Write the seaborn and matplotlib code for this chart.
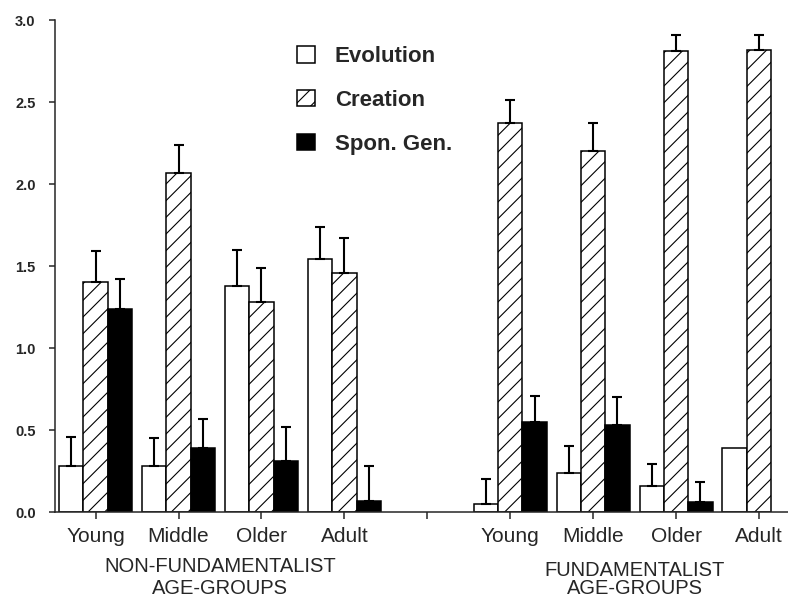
import numpy as np
import pandas as pd
import matplotlib
matplotlib.use("Agg")
import matplotlib.pyplot as plt
import seaborn as sns

# ---- data ----
age_groups = ["Young", "Middle", "Older", "Adult"]
beliefs = ["Evolution", "Creation", "Spon. Gen."]

evolution_nonfund = [0.28, 0.28, 1.38, 1.54]
evolution_fund = [0.05, 0.24, 0.16, 0.39]
creation_nonfund = [1.40, 2.07, 1.28, 1.46]
creation_fund = [2.37, 2.20, 2.81, 2.82]
spongen_nonfund = [1.24, 0.39, 0.31, 0.07]
spongen_fund = [0.55, 0.53, 0.06, np.nan]

# upper error bars (standard errors)
evolution_nonfund_se = [0.18, 0.17, 0.22, 0.20]
evolution_fund_se = [0.15, 0.16, 0.13, np.nan]
creation_nonfund_se = [0.19, 0.17, 0.21, 0.21]
creation_fund_se = [0.14, 0.17, 0.10, 0.09]
spongen_nonfund_se = [0.18, 0.18, 0.21, 0.21]
spongen_fund_se = [0.16, 0.17, 0.12, np.nan]

group_titles = ["NON-FUNDAMENTALIST", "FUNDAMENTALIST"]

# ---- table ----
rows = []
series = {
    ("NF", "Evolution"): (evolution_nonfund, evolution_nonfund_se),
    ("NF", "Creation"): (creation_nonfund, creation_nonfund_se),
    ("NF", "Spon. Gen."): (spongen_nonfund, spongen_nonfund_se),
    ("F", "Evolution"): (evolution_fund, evolution_fund_se),
    ("F", "Creation"): (creation_fund, creation_fund_se),
    ("F", "Spon. Gen."): (spongen_fund, spongen_fund_se),
}
for (grp, bel), (vals, ses) in series.items():
    for age, v, s in zip(age_groups, vals, ses):
        if not np.isnan(v):
            rows.append({"slot": f"{grp} {age}", "belief": bel, "mean": v, "se": s})
df = pd.DataFrame(rows)

order = [f"NF {a}" for a in age_groups] + ["gap"] + [f"F {a}" for a in age_groups]

sns.set_style("ticks")
plt.rcParams["font.family"] = ["Liberation Sans", "DejaVu Sans"]
plt.rcParams["hatch.color"] = "black"
plt.rcParams["hatch.linewidth"] = 0.8

fig = plt.figure(figsize=(7.88, 6.03), dpi=100)
ax = fig.add_axes([55 / 788, (603 - 512) / 603, 1 - 55 / 788, (512 - 20) / 603])

sns.barplot(
    data=df, x="slot", y="mean", hue="belief", order=order, hue_order=beliefs,
    palette={"Evolution": "white", "Creation": "white", "Spon. Gen.": "black"},
    edgecolor="black", linewidth=1.1, width=0.88, errorbar=None,
    saturation=1, legend=False, ax=ax,
)
bar_containers = list(ax.containers)

# hatch creation bars
for cont, bel in zip(bar_containers, beliefs):
    for p in cont.patches:
        if bel == "Creation":
            p.set_hatch("//")

# error bars (upper only)
se_lookup = {(r.slot, r.belief): r.se for r in df.itertuples()}
for cont, bel in zip(bar_containers, beliefs):
    for p in cont.patches:
        xc = p.get_x() + p.get_width() / 2
        slot = order[int(round(xc))]
        se = se_lookup.get((slot, bel), np.nan)
        if np.isnan(se):
            continue
        ax.errorbar([xc], [p.get_height()], yerr=[[0], [se]], fmt="none",
                    ecolor="black", elinewidth=1.5, capsize=3.8, capthick=1.5,
                    zorder=3)

ax.set_ylim(0, 3.0)
ax.set_xlim(-0.49, 8.35)
ax.set_yticks(np.arange(0, 3.01, 0.5))
ax.set_yticklabels([f"{v:.1f}" for v in np.arange(0, 3.01, 0.5)],
                   fontsize=10.5, fontweight="bold")
ax.set_xticks(range(len(order)))
ax.set_xticklabels(age_groups + [""] + age_groups, fontsize=15)
ax.set_xlabel("")
ax.set_ylabel("")
ax.tick_params(axis="y", length=4, width=1.1, pad=10)
ax.tick_params(axis="x", length=5, width=1.1, pad=6)
for s in ["top", "right"]:
    ax.spines[s].set_visible(False)
for s in ["left", "bottom"]:
    ax.spines[s].set_linewidth(1.1)

# group labels
trans = matplotlib.transforms.blended_transform_factory(ax.transData, fig.transFigure)
ax.text(1.5, 1 - 567 / 603, group_titles[0], transform=trans, ha="center",
        va="center", fontsize=14.5)
ax.text(1.5, 1 - 589 / 603, "AGE-GROUPS", transform=trans, ha="center",
        va="center", fontsize=14.5)
ax.text(6.5, 1 - 570 / 603, group_titles[1], transform=trans, ha="center",
        va="center", fontsize=14.5)
ax.text(6.5, 1 - 589 / 603, "AGE-GROUPS", transform=trans, ha="center",
        va="center", fontsize=14.5)

handles = [cont.patches[0] for cont in bar_containers]
leg = ax.legend(handles, beliefs, loc="upper left",
                bbox_to_anchor=(297 / 788, 1 - 46 / 603),
                bbox_transform=fig.transFigure, frameon=False,
                prop={"size": 16, "weight": "bold"},
                handlelength=0.81, handleheight=0.77, handletextpad=0.9,
                labelspacing=1.03, borderpad=0, borderaxespad=0)

fig.savefig("out.png", dpi=100)
